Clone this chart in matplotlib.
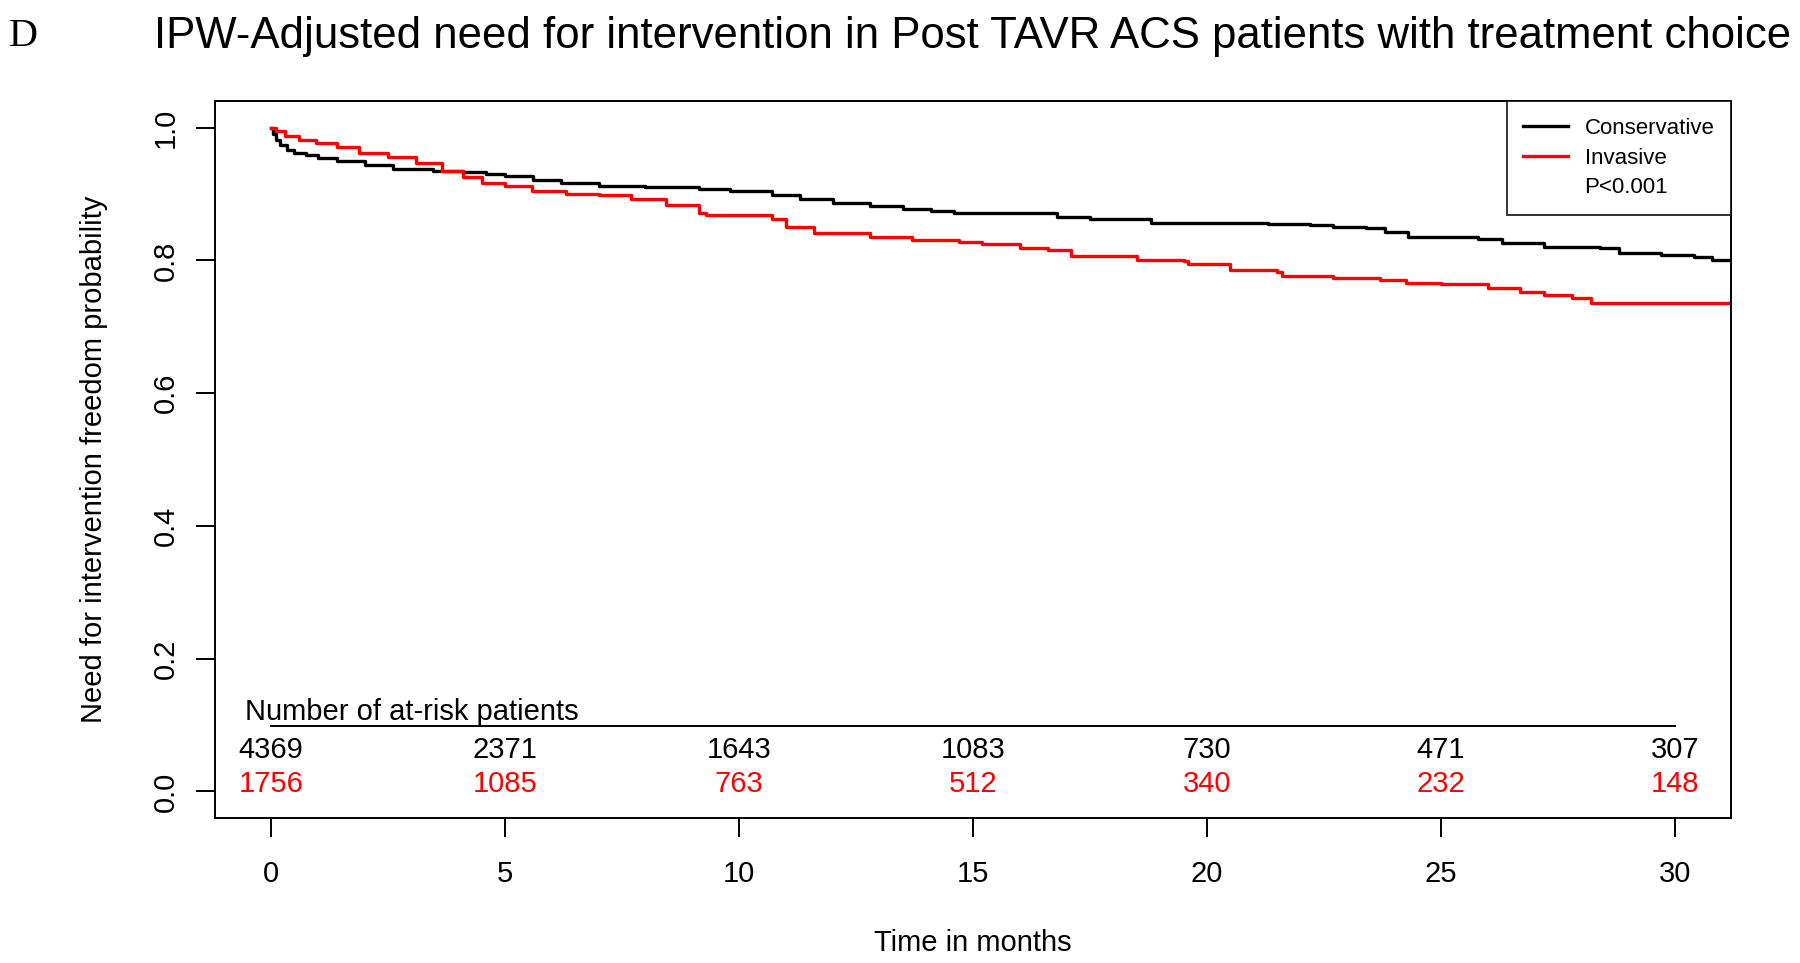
import numpy as np
import matplotlib
matplotlib.use("Agg")
import matplotlib.pyplot as plt
from matplotlib.lines import Line2D

plt.rcParams['font.family'] = ['Liberation Sans', 'DejaVu Sans']

# KM step curves (months, survival)
cons_t = [0, 0.05, 0.1, 0.2, 0.35, 0.5, 0.75, 1.0, 1.4, 2.0, 2.6, 3.45, 4.1, 4.6, 5.0,
          5.6, 6.2, 7.0, 8.0, 9.15, 9.8, 10.7, 11.3, 12.0, 12.8, 13.5, 14.1, 14.6, 15.1,
          16.8, 17.5, 18.2, 18.8, 21.3, 22.2, 22.7, 23.4, 23.8, 24.3, 25.8, 26.3, 27.2,
          28.4, 28.8, 29.7, 30.4, 30.8, 31.2]
cons_s = [1.0, 0.99, 0.982, 0.973, 0.966, 0.962, 0.958, 0.954, 0.949, 0.943, 0.938, 0.935,
          0.933, 0.930, 0.927, 0.921, 0.916, 0.912, 0.910, 0.908, 0.905, 0.898, 0.893, 0.887,
          0.882, 0.877, 0.874, 0.872, 0.871, 0.866, 0.863, 0.862, 0.857, 0.854, 0.853, 0.850,
          0.848, 0.843, 0.835, 0.832, 0.826, 0.820, 0.818, 0.811, 0.808, 0.805, 0.800, 0.800]

inv_t = [0, 0.1, 0.3, 0.6, 0.96, 1.4, 1.88, 2.5, 3.1, 3.65, 4.1, 4.5, 5.0, 5.58, 6.3, 7.0,
         7.7, 8.44, 9.15, 9.3, 10.7, 11.0, 11.6, 12.8, 13.7, 14.7, 15.2, 16.0, 16.6, 17.1,
         18.3, 18.5, 19.5, 19.6, 20.4, 20.5, 21.5, 21.6, 22.5, 22.7, 23.7, 24.25, 25.0,
         26.0, 26.7, 27.2, 27.8, 28.2, 31.2]
inv_s = [1.0, 0.995, 0.988, 0.982, 0.977, 0.970, 0.962, 0.955, 0.946, 0.935, 0.925, 0.917,
         0.912, 0.905, 0.900, 0.898, 0.892, 0.883, 0.872, 0.868, 0.862, 0.850, 0.841, 0.835,
         0.831, 0.827, 0.825, 0.819, 0.815, 0.807, 0.806, 0.800, 0.799, 0.795, 0.794, 0.785,
         0.783, 0.777, 0.776, 0.773, 0.770, 0.766, 0.764, 0.758, 0.752, 0.748, 0.743, 0.736,
         0.736]

risk_times = [0, 5, 10, 15, 20, 25, 30]
risk_cons = [4369, 2371, 1643, 1083, 730, 471, 307]
risk_inv = [1756, 1085, 763, 512, 340, 232, 148]

red = '#ff0000'

fig = plt.figure(figsize=(18, 9.63), dpi=100)
ax = fig.add_axes([0.1194, 0.1506, 0.8423, 0.7445])

ax.step(cons_t, cons_s, where='post', color='black', lw=2.4)
ax.step(inv_t, inv_s, where='post', color=red, lw=2.4)

ax.set_xlim(-1.2, 31.2)
ax.set_ylim(-0.04, 1.04)
ax.set_xticks(risk_times)
ax.set_yticks(np.arange(0, 1.01, 0.2))
ax.set_yticklabels(['0.0', '0.2', '0.4', '0.6', '0.8', '1.0'], rotation=90, va='center')
ax.tick_params(axis='both', labelsize=21, length=14, width=1.4)
ax.tick_params(axis='x', pad=16)
ax.tick_params(axis='y', pad=11)
for sp in ax.spines.values():
    sp.set_linewidth(1.4)

# at-risk table
ax.text(-0.55, 0.098, 'Number of at-risk patients', fontsize=21, ha='left', va='bottom')
ax.plot([0, 30], [0.099, 0.099], color='black', lw=1.4)
for t, c, i in zip(risk_times, risk_cons, risk_inv):
    ax.text(t, 0.063, str(c), fontsize=21, ha='center', va='center', color='black')
    ax.text(t, 0.011, str(i), fontsize=21, ha='center', va='center', color=red)

handles = [Line2D([], [], color='black', lw=2.4), Line2D([], [], color=red, lw=2.4),
           Line2D([], [], color='none')]
leg = ax.legend(handles, ['Conservative', 'Invasive', 'P<0.001'], loc='upper right',
                fontsize=16, frameon=True, fancybox=False, edgecolor='black',
                borderaxespad=0, borderpad=0.75, handlelength=2.0, handletextpad=0.75,
                labelspacing=0.4)
leg.get_frame().set_linewidth(1.4)

ax.set_xlabel('Time in months', fontsize=21, labelpad=30)
ax.set_ylabel('Need for intervention freedom probability', fontsize=21, labelpad=32)

fig.text(0.5405, 0.962, 'IPW-Adjusted need for intervention in Post TAVR ACS patients with treatment choice',
         fontsize=31.5, ha='center', va='center')
fig.text(0.013, 0.962, 'D', fontsize=29, family='Liberation Serif', ha='center', va='center')

fig.savefig('out.png', dpi=100)
